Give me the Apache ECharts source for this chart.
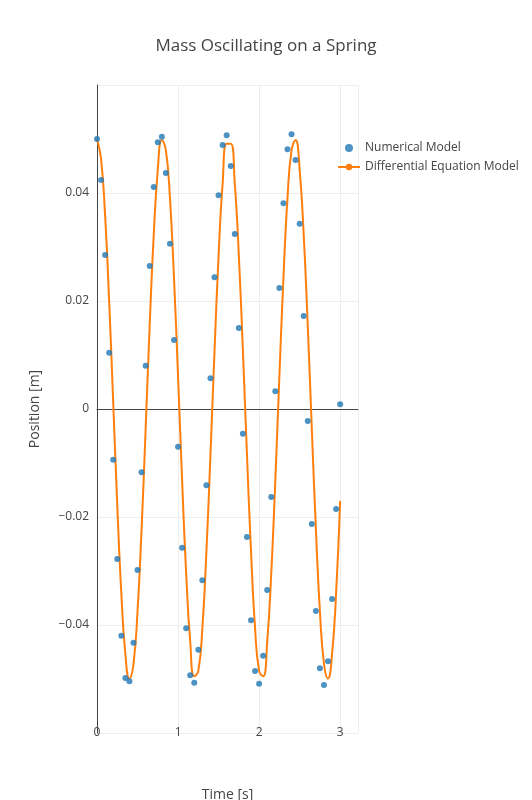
<!DOCTYPE html>
<html><head><meta charset="utf-8">
<script src="https://cdn.jsdelivr.net/npm/echarts@6/dist/echarts.min.js"></script>
<style>html,body{margin:0;padding:0;background:#fff}#c{width:532px;height:800px}</style>
</head><body><div id="c"></div>
<script>
// time samples (s)
var times = [];
for (var i = 0; i <= 60; i++) times.push(+(i * 0.05).toFixed(2));
// numerical model positions (m)
var numerical = [0.0500,0.0424,0.0285,0.0104,-0.0094,-0.0278,-0.0420,-0.0498,-0.0504,-0.0433,
  -0.0298,-0.0117,0.0080,0.0265,0.0411,0.0494,0.0504,0.0437,0.0306,0.0128,
  -0.0070,-0.0257,-0.0406,-0.0493,-0.0507,-0.0446,-0.0317,-0.0141,0.0057,0.0244,
  0.0396,0.0489,0.0507,0.0450,0.0324,0.0150,-0.0046,-0.0237,-0.0391,-0.0485,
  -0.0509,-0.0457,-0.0335,-0.0163,0.0033,0.0224,0.0381,0.0481,0.0509,0.0461,
  0.0343,0.0172,-0.0022,-0.0213,-0.0374,-0.0480,-0.0511,-0.0467,-0.0352,-0.0185,0.0009];
// differential equation model positions (m)
var analytic = [0.0500,0.0463,0.0358,0.0199,0.0012,-0.0178,-0.0341,-0.0454,-0.0499,-0.0472,
  -0.0374,-0.0222,-0.0037,0.0155,0.0322,0.0443,0.0498,0.0479,0.0390,0.0242,
  0.0060,-0.0132,-0.0304,-0.0431,-0.0495,-0.0485,-0.0405,-0.0263,-0.0084,0.0108,
  0.0284,0.0418,0.0491,0.0491,0.0418,0.0284,0.0108,-0.0084,-0.0263,-0.0405,
  -0.0485,-0.0495,-0.0431,-0.0304,-0.0132,0.0060,0.0242,0.0390,0.0479,0.0498,
  0.0443,0.0323,0.0155,-0.0036,-0.0221,-0.0374,-0.0471,-0.0499,-0.0454,-0.0341,-0.0170];

function pairs(ys){ return times.map(function(t, k){ return [t, ys[k]]; }); }
var font = '"Open Sans", sans-serif';
var chart = echarts.init(document.getElementById('c'));
chart.setOption({
    animation: false,
    title: { text: 'Mass Oscillating on a Spring', left: 'center', top: 33,
        textStyle: { fontFamily: font, fontSize: 17, fontWeight: 'normal', color: '#444' } },
    legend: { left: 332, top: 137, orient: 'vertical', itemGap: 7, itemWidth: 22, itemHeight: 8,
        textStyle: { fontFamily: font, fontSize: 12, color: '#444' },
        data: [{ name: 'Numerical Model', icon: 'circle' },
               { name: 'Differential Equation Model' }] },
    grid: { left: 97, right: 174, top: 85, bottom: 67, outerBoundsMode: 'none', containLabel: false },
    xAxis: { type: 'value', min: 0, max: 3.22, interval: 1,
        name: 'Time [s]', nameLocation: 'middle', nameGap: 55,
        nameTextStyle: { fontFamily: font, fontSize: 14, color: '#444' },
        axisLine: { onZero: true, lineStyle: { color: '#444' } },
        axisTick: { show: false },
        axisLabel: { showMaxLabel: false, fontFamily: font, fontSize: 12, color: '#444', margin: -6 },
        splitLine: { lineStyle: { color: '#eee' } } },
    yAxis: { type: 'value', min: -0.06, max: 0.06, interval: 0.02,
        name: 'Position [m]', nameLocation: 'middle', nameGap: 55,
        nameTextStyle: { fontFamily: font, fontSize: 14, color: '#444' },
        axisLine: { show: true, lineStyle: { color: '#444' } },
        axisTick: { show: false },
        axisLabel: { fontFamily: font, fontSize: 12, color: '#444',
            formatter: function (v) {
                if (Math.abs(v) > 0.055) return '';
                if (Math.abs(v) < 1e-9) return '0';
                return (v < 0 ? '\u2212' : '') + Math.abs(v).toFixed(2);
            } },
        splitLine: { lineStyle: { color: '#eee' } } },
    series: [
        { name: 'Differential Equation Model', type: 'line', smooth: true, symbol: 'none',
          data: pairs(analytic), color: '#ff7f0e', lineStyle: { width: 2 }, z: 2 },
        { name: 'Numerical Model', type: 'scatter', symbolSize: 6,
          data: pairs(numerical), color: '#1f77b4', z: 3 }
    ]
});
</script></body></html>
